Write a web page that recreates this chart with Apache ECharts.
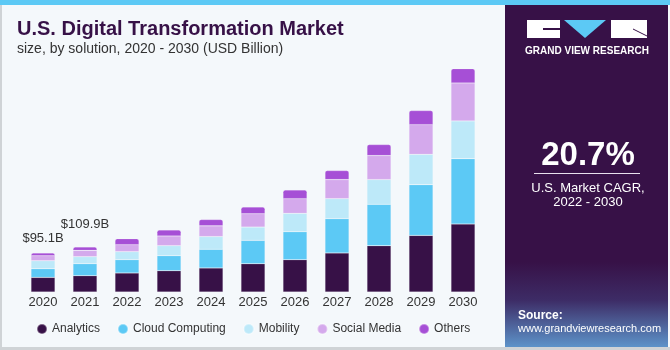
<!DOCTYPE html>
<html>
<head>
<meta charset="utf-8">
<script src="https://cdn.jsdelivr.net/npm/echarts@6/dist/echarts.min.js"></script>
<style>
html, body { margin: 0; padding: 0; }
#chart { width: 670px; height: 350px; }
</style>
</head>
<body>
<div id="chart"></div>
<script>
// values in USD Billion
const years = ['2020', '2021', '2022', '2023', '2024', '2025', '2026', '2027', '2028', '2029', '2030']
const analytics = [35.6, 39.8, 46.4, 52.0, 58.6, 69.0, 78.8, 95.2, 113.0, 138.1, 165.9]
const cloudComputing = [21.2, 29.3, 32.5, 36.6, 45.6, 56.9, 68.3, 83.7, 100.8, 123.7, 159.3]
const mobility = [19.5, 17.1, 19.5, 24.4, 31.0, 32.5, 44.7, 48.8, 60.3, 73.9, 92.0]
const socialMedia = [12.2, 15.4, 17.1, 23.7, 26.1, 32.5, 35.9, 46.4, 58.6, 72.5, 92.7]
const others = [6.6, 8.3, 14.6, 14.6, 15.4, 16.3, 21.2, 22.0, 26.8, 34.2, 34.9]
const totalLabels = ['$95.1B', '$109.9B']

const colors = {
  analytics: '#371147',
  cloud: '#5cc9f5',
  mobility: '#bde9f9',
  social: '#d4a9ec',
  others: '#a64fd6',
}
const dark = '#371147'

const chart = echarts.init(document.getElementById('chart'))

// the two labelled totals sit at different heights above their bars
const labelDistance = [8, 16]

function seg(name, data, color, top) {
  return {
    name: name,
    type: 'bar',
    stack: 'total',
    barWidth: 24,
    itemStyle: {
      color: color,
      borderColor: 'rgba(255,255,255,0.35)',
      borderWidth: 0.5,
      borderRadius: top ? [2, 2, 0, 0] : 0,
    },
    emphasis: { disabled: true },
    data: top
      ? data.map((v, i) => (totalLabels[i]
        ? {
          value: v,
          label: {
            show: true,
            position: 'top',
            distance: labelDistance[i],
            formatter: totalLabels[i],
            color: '#333',
            fontSize: 13,
            fontFamily: 'Liberation Sans',
          },
        }
        : v))
      : data,
  }
}

chart.setOption({
  animation: false,
  backgroundColor: '#f4f8fb',
  grid: { left: 22, right: 186, top: 46, bottom: 58 },
  legend: {
    left: 31,
    top: 318,
    icon: 'circle',
    itemWidth: 10,
    itemHeight: 10,
    itemGap: 17,
    textStyle: { color: '#333', fontSize: 12, fontFamily: 'Liberation Sans' },
    data: ['Analytics', 'Cloud Computing', 'Mobility', 'Social Media', 'Others'],
  },
  xAxis: {
    type: 'category',
    data: years,
    axisLine: { show: false },
    axisTick: { show: false },
    axisLabel: { color: '#333', fontSize: 13, margin: 4, fontFamily: 'Liberation Sans' },
  },
  yAxis: { type: 'value', min: 0, max: 600, show: false },
  series: [
    seg('Analytics', analytics, colors.analytics),
    seg('Cloud Computing', cloudComputing, colors.cloud),
    seg('Mobility', mobility, colors.mobility),
    seg('Social Media', socialMedia, colors.social),
    seg('Others', others, colors.others, true),
  ],
  graphic: [
    // frame
    { type: 'rect', shape: { x: 0, y: 0, width: 2, height: 350 }, style: { fill: '#cfd3d6' } },
    { type: 'rect', shape: { x: 0, y: 347, width: 670, height: 3 }, style: { fill: '#cfd3d6' } },
    // right panel
    { type: 'rect', shape: { x: 505, y: 0, width: 163, height: 347 }, style: { fill: dark } },
    {
      type: 'rect',
      shape: { x: 505, y: 262, width: 163, height: 85 },
      style: {
        fill: new echarts.graphic.LinearGradient(0, 0, 0, 1, [
          { offset: 0, color: dark },
          { offset: 0.45, color: '#3d2c66' },
          { offset: 1, color: '#5d93c9' },
        ]),
      },
    },
    // top strip
    { type: 'rect', shape: { x: 0, y: 0, width: 670, height: 5 }, style: { fill: '#5cc9f5' } },
    // logo
    { type: 'rect', shape: { x: 527, y: 20, width: 33, height: 18 }, style: { fill: '#fff' } },
    { type: 'rect', shape: { x: 543, y: 28, width: 17, height: 2 }, style: { fill: dark } },
    { type: 'polygon', shape: { points: [[564, 20], [606, 20], [585, 38]] }, style: { fill: '#5cc9f5' } },
    { type: 'rect', shape: { x: 611, y: 20, width: 36, height: 18 }, style: { fill: '#fff' } },
    { type: 'line', shape: { x1: 633, y1: 29, x2: 647, y2: 36 }, style: { stroke: dark, lineWidth: 1 } },
    {
      type: 'text', x: 587, y: 51,
      style: { text: 'GRAND VIEW RESEARCH', fill: '#fff', font: 'bold 10px Liberation Sans', textAlign: 'center', textVerticalAlign: 'middle' },
    },
    // CAGR
    {
      type: 'text', x: 588, y: 156,
      style: { text: '20.7%', fill: '#fff', font: 'bold 33px Liberation Sans', textAlign: 'center', textVerticalAlign: 'middle' },
    },
    { type: 'rect', shape: { x: 534, y: 173, width: 106, height: 1 }, style: { fill: '#e8e0ee' } },
    {
      type: 'text', x: 588, y: 188,
      style: { text: 'U.S. Market CAGR,', fill: '#fff', font: '13px Liberation Sans', textAlign: 'center', textVerticalAlign: 'middle' },
    },
    {
      type: 'text', x: 588, y: 202,
      style: { text: '2022 - 2030', fill: '#fff', font: '13px Liberation Sans', textAlign: 'center', textVerticalAlign: 'middle' },
    },
    // source
    {
      type: 'text', x: 518, y: 316,
      style: { text: 'Source:', fill: '#fff', font: 'bold 12px Liberation Sans', textVerticalAlign: 'middle' },
    },
    {
      type: 'text', x: 518, y: 329,
      style: { text: 'www.grandviewresearch.com', fill: '#fff', font: '11px Liberation Sans', textVerticalAlign: 'middle' },
    },
    // titles
    {
      type: 'text', x: 17, y: 29,
      style: { text: 'U.S. Digital Transformation Market', fill: '#371147', font: 'bold 20px Liberation Sans', textVerticalAlign: 'middle' },
    },
    {
      type: 'text', x: 17, y: 49,
      style: { text: 'size, by solution, 2020 - 2030 (USD Billion)', fill: '#333', font: '14px Liberation Sans', textVerticalAlign: 'middle' },
    },
  ],
})
</script>
</body>
</html>
